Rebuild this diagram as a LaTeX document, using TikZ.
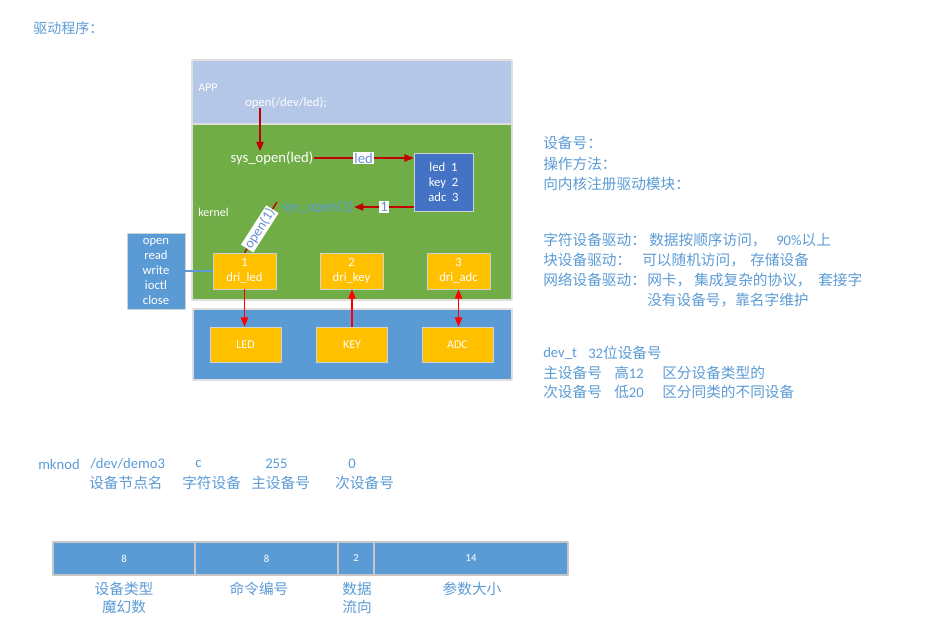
\documentclass[tikz,border=0pt]{standalone}
\usepackage{fontspec}
\setmainfont{Carlito}
\newfontfamily\cjk{Noto Sans CJK SC}
\usetikzlibrary{arrows.meta}

\definecolor{appbg}{HTML}{B4C7E7}
\definecolor{kgreen}{HTML}{70AD47}
\definecolor{hwblue}{HTML}{5B9BD5}
\definecolor{tblblue}{HTML}{4472C4}
\definecolor{dyellow}{HTML}{FFC000}
\definecolor{kred}{HTML}{C00000}
\definecolor{notecol}{HTML}{5B9BD5}

\begin{document}
\begin{tikzpicture}[x=0.75pt,y=-0.75pt,line join=round,
  every node/.style={font=\fontsize{9}{11}\selectfont},
  area/.style={draw=gray!25,line width=0.8pt},
  drvbox/.style={draw=gray!35,fill=dyellow,text=white,align=center,inner sep=0pt,
    minimum width=47.25pt,minimum height=27pt,font=\fontsize{9.5}{11.25}\selectfont},
  hwbox/.style={draw=gray!35,fill=dyellow,text=white,inner sep=0pt,
    minimum width=53.5pt,minimum height=26.25pt,font=\fontsize{9}{11}\selectfont},
  infobox/.style={draw=gray!35,text=white,align=center,inner sep=0pt,
    font=\fontsize{9.5}{11.25}\selectfont},
  karr/.style={draw=kred,line width=1pt,-{Triangle[length=7pt,width=5.5pt]}},
  harr/.style={draw=red,line width=1pt,-{Triangle[length=7pt,width=5.5pt]}},
  lbl/.style={fill=white,text=tblblue!80,inner sep=0.8pt,font=\fontsize{11}{13}\selectfont},
  note/.style={anchor=west,inner sep=0pt,text=notecol,font=\fontsize{11}{13}\selectfont\cjk},
  cell/.style={draw=gray!45,line width=0.8pt,fill=hwblue,text=white,inner sep=0pt,
    minimum height=24.75pt,font=\fontsize{8}{10}\selectfont}]
  \useasboundingbox (0,0) rectangle (950,626);
  % layers: user space, kernel, hardware
  \fill[appbg] (192,60) rectangle (512,124);
  \fill[kgreen] (192,124) rectangle (512,300);
  \draw[area] (192,60) rectangle (512,300) (192,124)--(512,124);
  \draw[area,fill=hwblue] (193,309) rectangle (512,380);
  \node[anchor=west,text=white,inner sep=0pt] (app) at (198,88) {APP};
  \node[anchor=west,text=white,inner sep=0pt] (kernel) at (198,212) {kernel};
  \node[text=white,inner sep=0pt,font=\fontsize{9.5}{11}\selectfont] (openapp) at (286,103) {open(/dev/led);};
  \node[text=white,inner sep=0pt,font=\fontsize{11}{13}\selectfont] (sysled) at (272,158) {sys\_open(led)};
  \node[infobox,fill=tblblue,minimum width=44.25pt,minimum height=43.5pt] (tbl) at (443.5,182)
    {led\ \ 1\\key\ \ 2\\adc\ \ 3};
  \node[text=hwblue,inner sep=0pt,font=\fontsize{11}{13}\selectfont] (sysone) at (318,207) {sys\_open(1)};
  \node[infobox,fill=hwblue,minimum width=43.5pt,minimum height=57pt] (fops) at (156,271)
    {open\\read\\write\\ioctl\\close};
  % drivers and devices
  \node[drvbox] (driled) at (244.5,271) {1\\dri\_led};
  \node[drvbox] (drikey) at (351.5,271) {2\\dri\_key};
  \node[drvbox] (driadc) at (458.5,271) {3\\dri\_adc};
  \node[hwbox] (led) at (245.5,344.5) {LED};
  \node[hwbox] (key) at (352,344.5) {KEY};
  \node[hwbox] (adc) at (457.5,344.5) {ADC};
  \coordinate (callpt) at (260,108);
  \coordinate (backpt) at (414,207);
  \coordinate (openend) at (277,202);
  \draw[karr] (callpt) -- (callpt |- sysled.north);
  \draw[karr] (sysled.east) -- node[lbl] {led} (sysled.east -| tbl.west);
  \draw[karr] (backpt) -- node[lbl] {1} (sysone.east);
  \draw[kred,line width=1pt] (driled.north) -- node[lbl,sloped,pos=.47,font=\fontsize{10.5}{12}\selectfont] {open(1)} (openend);
  \draw[hwblue,line width=0.8pt] (fops.east) -- (driled.west);
  \draw[harr] (driled.south) -- (driled.south |- led.north);
  \draw[harr] (key.north) -- (key.north |- drikey.south);
  \draw[harr,{Triangle[length=7pt,width=5.5pt]}-{Triangle[length=7pt,width=5.5pt]}]
    (driadc.south) -- (driadc.south |- adc.north);
  % notes
  \node[note,font=\fontsize{10.5}{13}\selectfont\cjk] (title) at (33,28) {驱动程序：};
  \node[note] (devno) at (543,143) {设备号：};
  \node[note] (opsmeth) at (543,164) {操作方法：};
  \node[note] (regmod) at (543,184) {向内核注册驱动模块：};
  \node[note] (chrdrv) at (543,240) {字符设备驱动：};
  \node[note] (chrseq) at (649,240) {数据按顺序访问，};
  \node[note] (chrpct) at (776,240) {{\rmfamily 90\%}以上};
  \node[note] (blkdrv) at (543,260) {块设备驱动：};
  \node[note] (blkrand) at (642,260) {可以随机访问，};
  \node[note] (blkstore) at (750,260) {存储设备};
  \node[note] (netdrv) at (543,280) {网络设备驱动：};
  \node[note] (netcard) at (647,280) {网卡，};
  \node[note] (netproto) at (694,280) {集成复杂的协议，};
  \node[note] (netsock) at (818,280) {套接字};
  \node[note] (netname) at (647,300) {没有设备号，靠名字维护};
  \node[note] (devt) at (543,353) {\rmfamily dev\_t};
  \node[note] (devtbits) at (588,353) {{\rmfamily 32}位设备号};
  \node[note] (major) at (543,373) {主设备号};
  \node[note] (majhi) at (614,373) {高{\rmfamily 12}};
  \node[note] (majuse) at (662,373) {区分设备类型的};
  \node[note] (minor) at (543,392) {次设备号};
  \node[note] (minlo) at (614,392) {低{\rmfamily 20}};
  \node[note] (minuse) at (662,392) {区分同类的不同设备};
  % mknod
  \node[note] (mk) at (38,464) {\rmfamily mknod};
  \node[note] (mkpath) at (90,464) {\rmfamily /dev/demo3};
  \node[note] (mktype) at (195,464) {\rmfamily c};
  \node[note] (mkmaj) at (265,464) {\rmfamily 255};
  \node[note] (mkmin) at (348,464) {\rmfamily 0};
  \node[note] (mkpathlbl) at (89,483) {设备节点名};
  \node[note] (mktypelbl) at (182,483) {字符设备};
  \node[note] (mkmajlbl) at (251,483) {主设备号};
  \node[note] (mkminlbl) at (335,483) {次设备号};
  % ioctl command bits
  \foreach \cx/\cw/\bits/\nm in {124/106.5/8/type,266.5/107.25/8/nr,356/27/2/dir,471/145.5/14/size}
    \node[cell,minimum width=\cw pt] (cell\nm) at (\cx,558.5) {\bits};
  \node[note,anchor=center,align=center,font=\fontsize{11}{14}\selectfont\cjk] (typelbl) at (124,598) {设备类型\\魔幻数};
  \node[note,anchor=center] (nrlbl) at (259,589) {命令编号};
  \node[note,anchor=center,align=center,font=\fontsize{11}{14}\selectfont\cjk] (dirlbl) at (357,598) {数据\\流向};
  \node[note,anchor=center] (sizelbl) at (472,589) {参数大小};
\end{tikzpicture}
\end{document}
